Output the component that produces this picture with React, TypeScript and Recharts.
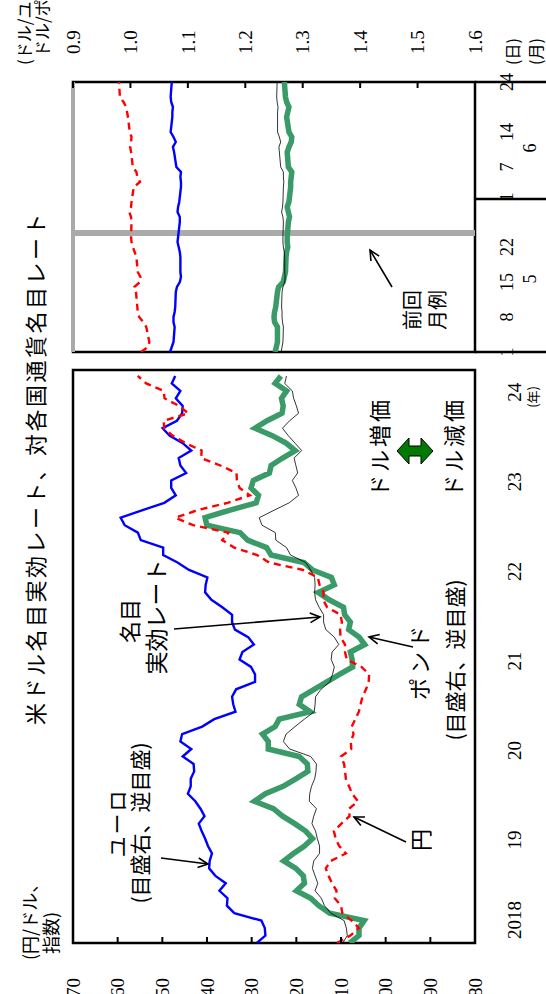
import React from 'react'
import { LineChart, Line, XAxis, YAxis, ReferenceArea, ReferenceLine } from 'recharts'

// the chart is drawn landscape (994 x 546) and turned a quarter turn to the left
const W = 994
const H = 546
const JP = '"Noto Sans CJK JP", sans-serif'
const NUM = '"Liberation Serif", "DejaVu Serif", serif'

// ---- monthly panel: Jan 2018 .. May 2024 (index 0 = Jan 2018)
const YEAR_TICKS = [0, 12, 24, 36, 48, 60, 72]
const YEAR_LABELS = ['2018', '19', '20', '21', '22', '23', '24']
const LEFT_TICKS = [80, 90, 100, 110, 120, 130, 140, 150, 160, 170]
const RIGHT_TICKS = [0.9, 1.0, 1.1, 1.2, 1.3, 1.4, 1.5, 1.6]

const yenMonthly = [
  110.9, 107.9, 106.0, 107.6, 109.7, 110.0, 111.4, 111.0, 112.0, 112.8, 113.4, 112.3,
  108.9, 110.4, 111.2, 111.6, 109.9, 108.1, 108.2, 106.2, 107.5, 108.2, 108.9, 109.1,
  109.3, 110.0, 107.7, 107.8, 107.2, 107.6, 106.8, 106.0, 105.6, 105.2, 104.4, 103.8,
  103.7, 105.4, 108.7, 109.1, 109.1, 110.1, 110.2, 109.8, 110.1, 113.1, 114.0, 113.9,
  114.8, 115.2, 118.5, 126.1, 128.8, 133.9, 136.6, 135.2, 143.1, 147.1, 142.2, 135.4,
  130.4, 132.7, 133.3, 133.4, 137.0, 141.3, 141.2, 144.8, 147.7, 149.6, 149.7, 144.2,
  146.3, 149.5, 149.7, 153.6, 155.5,
]
const euroMonthly = [
  1.22, 1.235, 1.234, 1.228, 1.181, 1.168, 1.169, 1.155, 1.166, 1.148, 1.137, 1.138,
  1.142, 1.135, 1.13, 1.124, 1.119, 1.129, 1.122, 1.113, 1.1, 1.105, 1.105, 1.111,
  1.11, 1.091, 1.106, 1.087, 1.09, 1.125, 1.146, 1.183, 1.179, 1.177, 1.184, 1.217,
  1.217, 1.21, 1.19, 1.195, 1.215, 1.205, 1.182, 1.177, 1.177, 1.16, 1.141, 1.13,
  1.131, 1.134, 1.102, 1.082, 1.057, 1.057, 1.018, 1.013, 0.99, 0.983, 1.02, 1.059,
  1.079, 1.071, 1.071, 1.097, 1.087, 1.084, 1.106, 1.091, 1.068, 1.056, 1.081, 1.09,
  1.091, 1.079, 1.087, 1.072, 1.078,
]
const poundMonthly = [
  1.382, 1.398, 1.398, 1.407, 1.347, 1.328, 1.314, 1.289, 1.303, 1.301, 1.288, 1.267,
  1.284, 1.303, 1.317, 1.305, 1.286, 1.265, 1.249, 1.216, 1.235, 1.266, 1.288, 1.309,
  1.308, 1.294, 1.24, 1.24, 1.23, 1.252, 1.259, 1.313, 1.294, 1.298, 1.32, 1.342,
  1.364, 1.387, 1.386, 1.383, 1.408, 1.398, 1.38, 1.383, 1.373, 1.371, 1.346, 1.327,
  1.355, 1.35, 1.317, 1.302, 1.245, 1.237, 1.204, 1.191, 1.133, 1.13, 1.172, 1.219,
  1.223, 1.21, 1.214, 1.242, 1.245, 1.265, 1.287, 1.271, 1.247, 1.217, 1.238, 1.264,
  1.266, 1.263, 1.272, 1.252, 1.262,
]
const neerMonthly = [
  109.6, 108.6, 108.8, 109.3, 112.3, 113.7, 114.4, 115.8, 115.2, 115.8, 116.4, 116.1,
  114.8, 114.8, 115.3, 115.7, 116.5, 116.1, 115.5, 117.1, 117.0, 116.6, 115.9, 115.6,
  115.5, 116.8, 121.5, 122.9, 122.3, 120.3, 118.2, 116.0, 115.8, 115.7, 114.5, 112.5,
  111.9, 111.5, 112.2, 112.0, 110.5, 111.5, 113.4, 113.9, 113.9, 114.9, 115.7, 115.9,
  115.8, 115.9, 116.8, 117.9, 121.3, 122.2, 124.6, 124.7, 127.7, 128.3, 125.0, 121.6,
  119.5, 120.1, 120.9, 119.7, 120.1, 120.5, 118.8, 120.3, 121.8, 123.1, 121.5, 119.5,
  120.0, 120.6, 120.9, 122.6, 122.2,
]

const monthly = yenMonthly.map((v, i) => ({
  m: i,
  yen: v,
  euro: euroMonthly[i],
  pound: poundMonthly[i],
  neer: neerMonthly[i],
}))

// ---- daily panel: May 1 .. Jun 24 2024, x = calendar days since May 1
const dayOffsets = [
  0, 1, 2, 5, 6, 7, 8, 9, 12, 13, 14, 15, 16, 19, 20, 21, 22, 23, 26, 27, 28, 29, 30,
  33, 34, 35, 36, 37, 40, 41, 42, 43, 44, 47, 48, 49, 50, 51, 54,
]
const yenDaily = [
  154.8, 153.2, 152.9, 153.6, 154.3, 155.2, 155.5, 155.6, 155.9, 156.3, 155.0, 154.9, 155.5,
  155.8, 156.2, 156.6, 156.9, 157.0, 156.9, 157.0, 157.4, 157.0, 156.9,
  156.4, 155.0, 155.6, 155.8, 156.6, 157.0, 157.2, 157.0, 156.9, 157.3, 157.7, 157.9, 158.1,
  158.7, 159.5, 159.7,
]
const euroDaily = [
  1.069, 1.072, 1.075, 1.077, 1.075, 1.075, 1.077, 1.078, 1.079, 1.081, 1.086, 1.088, 1.087,
  1.087, 1.086, 1.084, 1.082, 1.083, 1.086, 1.086, 1.082, 1.083, 1.085,
  1.088, 1.088, 1.087, 1.088, 1.08, 1.076, 1.074, 1.079, 1.075, 1.07, 1.073, 1.073, 1.074,
  1.071, 1.07, 1.072,
]
const poundDaily = [
  1.252, 1.254, 1.256, 1.256, 1.251, 1.25, 1.251, 1.253, 1.256, 1.258, 1.266, 1.268, 1.27,
  1.271, 1.272, 1.274, 1.273, 1.273, 1.275, 1.277, 1.275, 1.273, 1.276,
  1.279, 1.279, 1.28, 1.281, 1.275, 1.273, 1.276, 1.28, 1.281, 1.276, 1.272, 1.274, 1.276,
  1.272, 1.27, 1.268,
]
const neerDaily = [
  123.4, 123.2, 123.0, 122.9, 123.1, 123.2, 123.2, 123.3, 123.2, 123.0, 122.6, 122.5, 122.6,
  122.6, 122.7, 122.9, 123.0, 123.0, 122.9, 123.0, 123.3, 123.1, 123.0,
  122.9, 122.8, 122.9, 122.9, 123.5, 123.8, 123.9, 123.5, 123.8, 124.2, 124.2, 124.2, 124.1,
  124.3, 124.4, 124.3,
]

const daily = dayOffsets.map((d, i) => ({
  d,
  yen: yenDaily[i],
  euro: euroDaily[i],
  pound: poundDaily[i],
  neer: neerDaily[i],
}))

const DAY_END = 54
const DAY_LABELS: Record<number, string> = { 0: '1', 7: '8', 14: '15', 21: '22', 31: '1', 37: '7', 44: '14', 54: '24' }
const MONTH_LABELS: Record<number, string> = { 14.6: '5', 40.8: '6' }
const MONTH_SPLITS = [0, 30.6, DAY_END]
const DAY_TICKS = [0, 7, 14, 14.6, 21, 30.6, 31, 37, 40.8, 44, 54]
const PREV_REPORT_DAY = 23.8

const RED = '#ff0000'
const BLUE = '#0000ff'
const GREEN = '#3a9b68'

function YearTick({ x, y, payload }: any) {
  const i = YEAR_TICKS.indexOf(payload.value)
  return (
    <g>
      <text x={x + 4} y={y + 46} fontFamily={NUM} fontSize={19} textAnchor="start">
        {YEAR_LABELS[i]}
      </text>
      {i === YEAR_TICKS.length - 1 && (
        <text x={x - 2} y={y + 63} fontFamily={JP} fontSize={13} textAnchor="start">
          (年)
        </text>
      )}
    </g>
  )
}

function LeftTick({ x, y, payload }: any) {
  return (
    <g>
      <line x1={x} x2={x + 6} y1={y} y2={y} stroke="#000" strokeWidth={2} />
      <text x={x - 35} y={y} dy="0.35em" fontFamily={NUM} fontSize={19} textAnchor="end">
        {payload.value}
      </text>
    </g>
  )
}

function RightTick({ x, y, payload }: any) {
  return (
    <g>
      <line x1={x} x2={x - 6} y1={y} y2={y} stroke="#000" strokeWidth={2} />
      <text x={x + 40} y={y} dy="0.35em" fontFamily={NUM} fontSize={19} textAnchor="middle">
        {payload.value.toFixed(1)}
      </text>
    </g>
  )
}

function DayTick({ x, y, payload }: any) {
  const v = payload.value
  return (
    <g>
      {MONTH_SPLITS.includes(v) && <line x1={x} x2={x} y1={y} y2={y + 71} stroke="#000" strokeWidth={2.5} />}
      {DAY_LABELS[v] && (
        <text x={x} y={y + 38} fontFamily={NUM} fontSize={18} textAnchor="middle">
          {DAY_LABELS[v]}
        </text>
      )}
      {MONTH_LABELS[v] && (
        <text x={x} y={y + 61} fontFamily={NUM} fontSize={18} textAnchor="middle">
          {MONTH_LABELS[v]}
        </text>
      )}
    </g>
  )
}

function Arrow({ from, to }: { from: [number, number]; to: [number, number] }) {
  const [x1, y1] = from
  const [x2, y2] = to
  const a = Math.atan2(y2 - y1, x2 - x1)
  const L = 11
  const p1 = [x2 - L * Math.cos(a - 0.45), y2 - L * Math.sin(a - 0.45)]
  const p2 = [x2 - L * Math.cos(a + 0.45), y2 - L * Math.sin(a + 0.45)]
  return (
    <g stroke="#000" strokeWidth={1.6} fill="none">
      <line x1={x1} y1={y1} x2={x2} y2={y2} />
      <polyline points={`${p1[0]},${p1[1]} ${x2},${y2} ${p2[0]},${p2[1]}`} />
    </g>
  )
}

function series(prefix: string) {
  return [
    <Line key={prefix + 'p'} yAxisId="r" dataKey="pound" stroke={GREEN} strokeWidth={5.5} dot={false} isAnimationActive={false} />,
    <Line key={prefix + 'n'} yAxisId="l" dataKey="neer" stroke="#000" strokeWidth={0.8} dot={false} isAnimationActive={false} />,
    <Line key={prefix + 'e'} yAxisId="r" dataKey="euro" stroke={BLUE} strokeWidth={2.4} dot={false} isAnimationActive={false} />,
    <Line key={prefix + 'y'} yAxisId="l" dataKey="yen" stroke={RED} strokeWidth={2.4} strokeDasharray="7 5" dot={false} isAnimationActive={false} />,
  ]
}

function Annotations() {
  const t = { fontFamily: JP, fill: '#000' }
  return (
    <svg width={W} height={H} style={{ position: 'absolute', left: 0, top: 0 }}>
      <text x={526} y={44} fontSize={22} letterSpacing={2.5} textAnchor="middle" {...t}>
        米ドル名目実効レート、対各国通貨名目レート
      </text>
      <text x={34} y={37} fontSize={18} {...t}>(円/ドル、</text>
      <text x={40} y={58} fontSize={18} {...t}>指数)</text>
      <text x={929} y={31} fontSize={17} {...t}>(ドル/ユーロ、</text>
      <text x={937} y={49} fontSize={17} {...t}>ドル/ポンド)</text>

      <text x={547} y={388} fontSize={22} letterSpacing={3} textAnchor="middle" {...t}>ドル増価</text>
      <text x={547} y={462} fontSize={22} letterSpacing={3} textAnchor="middle" {...t}>ドル減価</text>
      <polygon
        points="543,397 556,409 548,409 548,421 556,421 543,433 530,421 538,421 538,409 530,409"
        fill="#007a00"
        stroke="#000"
        strokeWidth={1}
      />

      <text x={373} y={138} fontSize={22} textAnchor="middle" {...t}>名目</text>
      <text x={377} y={165} fontSize={23} textAnchor="middle" {...t}>実効レート</text>
      <Arrow from={[365, 174]} to={[377, 320]} />

      <text x={333} y={428} fontSize={22} letterSpacing={4} textAnchor="middle" {...t}>ポンド</text>
      <text x={334} y={463} fontSize={21} textAnchor="middle" {...t}>(目盛右、逆目盛)</text>
      <Arrow from={[347, 413]} to={[357, 369]} />

      <text x={171} y={125} fontSize={21} letterSpacing={2} textAnchor="middle" {...t}>ユーロ</text>
      <text x={171} y={148} fontSize={21} textAnchor="middle" {...t}>(目盛右、逆目盛)</text>
      <Arrow from={[136, 161]} to={[130, 208]} />

      <text x={154} y={429} fontSize={22} textAnchor="middle" {...t}>円</text>
      <Arrow from={[152, 406]} to={[177, 354]} />

      <text x={664} y={420} fontSize={20} {...t}>前回</text>
      <text x={664} y={445} fontSize={20} {...t}>月例</text>
      <Arrow from={[707, 392]} to={[744, 370]} />

      <text x={929} y={519} fontSize={16} {...t}>(日)</text>
      <text x={929} y={542} fontSize={16} {...t}>(月)</text>
    </svg>
  )
}

export default function App() {
  return (
    <div style={{ position: 'absolute', left: 0, top: 0, width: 546, height: 994, overflow: 'hidden', background: '#fff' }}>
      <div
        style={{
          position: 'absolute',
          left: 0,
          top: 0,
          width: W,
          height: H,
          transformOrigin: '0 0',
          transform: `translate(0px, ${W}px) rotate(-90deg)`,
        }}
      >
        <div style={{ position: 'absolute', left: 0, top: 0 }}>
          <LineChart width={W} height={H} data={monthly} margin={{ top: 73, right: 370, bottom: 41, left: 0 }}>
            <XAxis
              dataKey="m"
              type="number"
              domain={[0, 76.8]}
              ticks={YEAR_TICKS}
              interval={0}
              height={30}
              axisLine={false}
              tickLine={false}
              tickSize={0}
              tickMargin={0}
              tick={<YearTick />}
              allowDataOverflow
            />
            <YAxis
              yAxisId="l"
              domain={[80, 170]}
              ticks={LEFT_TICKS}
              interval={0}
              width={51}
              axisLine={false}
              tickLine={false}
              tickSize={0}
              tickMargin={0}
              tick={<LeftTick />}
              allowDataOverflow
            />
            <YAxis yAxisId="r" orientation="right" domain={[0.9, 1.6]} reversed hide allowDataOverflow />
            <ReferenceArea yAxisId="l" x1={0} x2={76.8} y1={80} y2={170} fill="none" stroke="#000" strokeWidth={2.5} />
            {series('m')}
          </LineChart>
        </div>
        <div style={{ position: 'absolute', left: 0, top: 0 }}>
          <LineChart width={W} height={H} data={daily} margin={{ top: 73, right: 0, bottom: 41, left: 642 }}>
            <XAxis
              dataKey="d"
              type="number"
              domain={[0, DAY_END]}
              ticks={DAY_TICKS}
              interval={0}
              height={30}
              axisLine={false}
              tickLine={false}
              tickSize={0}
              tickMargin={0}
              tick={<DayTick />}
              allowDataOverflow
            />
            <YAxis yAxisId="l" domain={[80, 170]} hide allowDataOverflow />
            <YAxis
              yAxisId="r"
              orientation="right"
              domain={[0.9, 1.6]}
              reversed
              ticks={RIGHT_TICKS}
              interval={0}
              width={82}
              axisLine={false}
              tickLine={false}
              tickSize={0}
              tickMargin={0}
              tick={<RightTick />}
              allowDataOverflow
            />
            <ReferenceLine yAxisId="l" x={PREV_REPORT_DAY} stroke="#aaaaaa" strokeWidth={6} />
            <ReferenceArea yAxisId="l" x1={0} x2={DAY_END} y1={80} y2={170} fill="none" stroke="#000" strokeWidth={2.5} />
            <ReferenceLine yAxisId="l" y={170} stroke="#aaaaaa" strokeWidth={4} />
            {series('d')}
          </LineChart>
        </div>
        <Annotations />
      </div>
    </div>
  )
}
